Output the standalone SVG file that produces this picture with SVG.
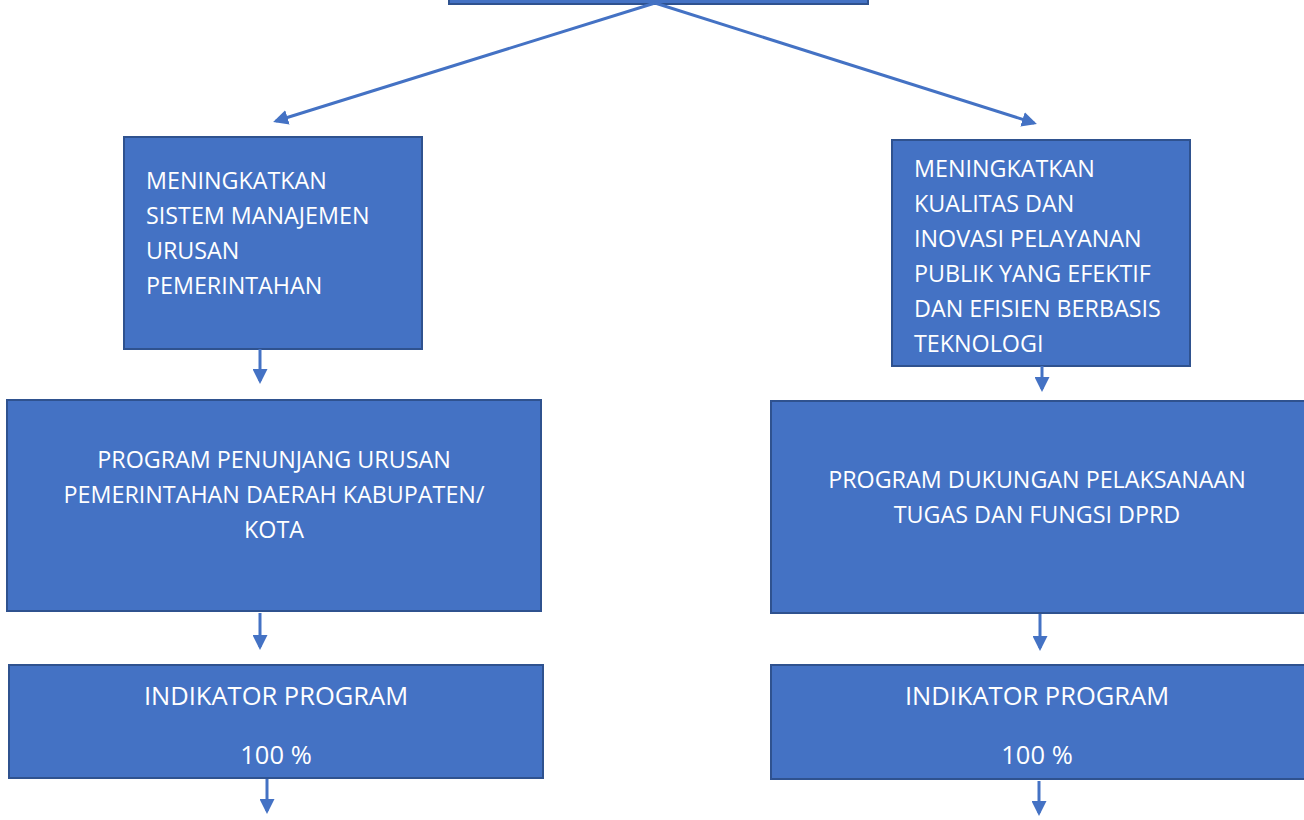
<svg xmlns="http://www.w3.org/2000/svg" width="1304" height="820" viewBox="0 0 1304 820">
<style>
.box{fill:#4472C4;stroke:#2F528F;stroke-width:2}
.t{fill:#fff;font-family:"Open Sans","Noto Sans",sans-serif;font-size:23.3px}
.big{font-size:25.5px}
.c{text-anchor:middle}
.ln{stroke:#4472C4;stroke-width:3;fill:none}
</style>
<defs>
<marker id="ah" markerWidth="5" markerHeight="5" refX="4" refY="2.5" orient="auto" markerUnits="strokeWidth">
<path d="M0,0 L5,2.5 L0,5 Z" fill="#4472C4"/>
</marker>
</defs>
<g id="top"><rect class="box" x="449" y="-10" width="419" height="14"/></g>
<g id="n1">
<rect class="box" x="124" y="137" width="298" height="212"/>
<text class="t" x="146" y="189">MENINGKATKAN</text>
<text class="t" x="146" y="224">SISTEM MANAJEMEN</text>
<text class="t" x="146" y="259">URUSAN</text>
<text class="t" x="146" y="294">PEMERINTAHAN</text>
</g>
<g id="n2">
<rect class="box" x="892" y="140" width="298" height="226"/>
<text class="t" x="914" y="177">MENINGKATKAN</text>
<text class="t" x="914" y="212">KUALITAS DAN</text>
<text class="t" x="914" y="247">INOVASI PELAYANAN</text>
<text class="t" x="914" y="282">PUBLIK YANG EFEKTIF</text>
<text class="t" x="914" y="317">DAN EFISIEN BERBASIS</text>
<text class="t" x="914" y="352">TEKNOLOGI</text>
</g>
<g id="n3">
<rect class="box" x="7" y="400" width="534" height="211"/>
<text class="t c" x="274" y="468">PROGRAM PENUNJANG URUSAN</text>
<text class="t c" x="274" y="503">PEMERINTAHAN DAERAH KABUPATEN/</text>
<text class="t c" x="274" y="538">KOTA</text>
</g>
<g id="n4">
<rect class="box" x="771" y="401" width="534" height="212"/>
<text class="t c" x="1037" y="488">PROGRAM DUKUNGAN PELAKSANAAN</text>
<text class="t c" x="1037" y="523">TUGAS DAN FUNGSI DPRD</text>
</g>
<g id="n5">
<rect class="box" x="9" y="665" width="534" height="113"/>
<text class="t big c" x="276" y="705">INDIKATOR PROGRAM</text>
<text class="t big c" x="276" y="764">100 %</text>
</g>
<g id="n6">
<rect class="box" x="771" y="665" width="534" height="114"/>
<text class="t big c" x="1037" y="705">INDIKATOR PROGRAM</text>
<text class="t big c" x="1037" y="764">100 %</text>
</g>
<g id="connectors">
<line class="ln" x1="655" y1="3" x2="276" y2="121" marker-end="url(#ah)"/>
<line class="ln" x1="655" y1="3" x2="1034" y2="123" marker-end="url(#ah)"/>
<line class="ln" x1="260" y1="349" x2="260" y2="381" marker-end="url(#ah)"/>
<line class="ln" x1="1042" y1="366" x2="1042" y2="389" marker-end="url(#ah)"/>
<line class="ln" x1="260" y1="613" x2="260" y2="647" marker-end="url(#ah)"/>
<line class="ln" x1="1040" y1="614" x2="1040" y2="648" marker-end="url(#ah)"/>
<line class="ln" x1="267" y1="779" x2="267" y2="811" marker-end="url(#ah)"/>
<line class="ln" x1="1039" y1="781" x2="1039" y2="813" marker-end="url(#ah)"/>
</g>
</svg>
